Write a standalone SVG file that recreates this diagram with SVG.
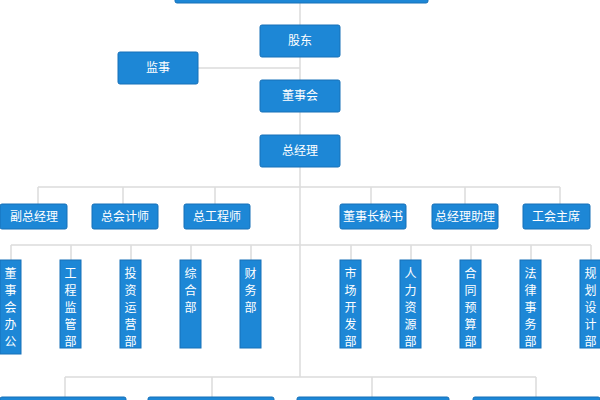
<svg xmlns="http://www.w3.org/2000/svg" width="600" height="400" viewBox="0 0 600 400">
<style>
.b{fill:#1d87d6;stroke:#1670b8;stroke-width:1}
.t{fill:#fff;font-family:"Noto Sans CJK SC",sans-serif;font-size:12px;text-anchor:middle}
.l{stroke:#dcdcdc;stroke-width:1.5;fill:none}
</style>
<rect width="600" height="400" fill="#fff"/>
<g id="connectors" class="l">
<path d="M300 3V377M118 68H300M38 187H560M38 187V204M123 187V204M215 187V204M371 187V204M465 187V204M560 187V204M11 245H591M11 245V260M71 245V260M131 245V260M191 245V260M251 245V260M351 245V260M411 245V260M471 245V260M531 245V260M591 245V260M65 377H536M65 377V397M212 377V397M372 377V397M536 377V397"/>
</g>
<g id="top"><rect class="b" x="175" y="-4" width="253" height="7" rx="2"/></g>
<g id="gudong"><rect class="b" x="260" y="25" width="80" height="32" rx="2"/><text class="t" x="300" y="45">股东</text></g>
<g id="jianshi"><rect class="b" x="118" y="52" width="80" height="32" rx="2"/><text class="t" x="158" y="72">监事</text></g>
<g id="dongshihui"><rect class="b" x="260" y="80" width="80" height="32" rx="2"/><text class="t" x="300" y="100">董事会</text></g>
<g id="zongjingli"><rect class="b" x="260" y="135" width="80" height="32" rx="2"/><text class="t" x="300" y="155">总经理</text></g>
<g id="r1"><rect class="b" x="0" y="204" width="67" height="25" rx="2"/><text class="t" x="34" y="221">副总经理</text></g>
<g id="r2"><rect class="b" x="92" y="204" width="66" height="25" rx="2"/><text class="t" x="125" y="221">总会计师</text></g>
<g id="r3"><rect class="b" x="184" y="204" width="66" height="25" rx="2"/><text class="t" x="217" y="221">总工程师</text></g>
<g id="r4"><rect class="b" x="340" y="204" width="66" height="25" rx="2"/><text class="t" x="373" y="221">董事长秘书</text></g>
<g id="r5"><rect class="b" x="432" y="204" width="66" height="25" rx="2"/><text class="t" x="465" y="221">总经理助理</text></g>
<g id="r6"><rect class="b" x="523" y="204" width="67" height="25" rx="2"/><text class="t" x="556" y="221">工会主席</text></g>
<g id="d1"><rect class="b" x="0" y="260" width="21" height="94"/><text class="t" x="10.5"><tspan x="10.5" y="278">董</tspan><tspan x="10.5" y="295">事</tspan><tspan x="10.5" y="312">会</tspan><tspan x="10.5" y="329">办</tspan><tspan x="10.5" y="346">公</tspan></text></g>
<g id="d2"><rect class="b" x="60" y="260" width="21" height="88"/><text class="t"><tspan x="70.5" y="278">工</tspan><tspan x="70.5" y="295">程</tspan><tspan x="70.5" y="312">监</tspan><tspan x="70.5" y="329">管</tspan><tspan x="70.5" y="346">部</tspan></text></g>
<g id="d3"><rect class="b" x="120" y="260" width="21" height="88"/><text class="t"><tspan x="130.5" y="278">投</tspan><tspan x="130.5" y="295">资</tspan><tspan x="130.5" y="312">运</tspan><tspan x="130.5" y="329">营</tspan><tspan x="130.5" y="346">部</tspan></text></g>
<g id="d4"><rect class="b" x="180" y="260" width="21" height="88"/><text class="t"><tspan x="190.5" y="278">综</tspan><tspan x="190.5" y="295">合</tspan><tspan x="190.5" y="312">部</tspan></text></g>
<g id="d5"><rect class="b" x="240" y="260" width="21" height="88"/><text class="t"><tspan x="250.5" y="278">财</tspan><tspan x="250.5" y="295">务</tspan><tspan x="250.5" y="312">部</tspan></text></g>
<g id="d6"><rect class="b" x="340" y="260" width="21" height="88"/><text class="t"><tspan x="350.5" y="278">市</tspan><tspan x="350.5" y="295">场</tspan><tspan x="350.5" y="312">开</tspan><tspan x="350.5" y="329">发</tspan><tspan x="350.5" y="346">部</tspan></text></g>
<g id="d7"><rect class="b" x="400" y="260" width="21" height="88"/><text class="t"><tspan x="410.5" y="278">人</tspan><tspan x="410.5" y="295">力</tspan><tspan x="410.5" y="312">资</tspan><tspan x="410.5" y="329">源</tspan><tspan x="410.5" y="346">部</tspan></text></g>
<g id="d8"><rect class="b" x="460" y="260" width="21" height="88"/><text class="t"><tspan x="470.5" y="278">合</tspan><tspan x="470.5" y="295">同</tspan><tspan x="470.5" y="312">预</tspan><tspan x="470.5" y="329">算</tspan><tspan x="470.5" y="346">部</tspan></text></g>
<g id="d9"><rect class="b" x="520" y="260" width="21" height="88"/><text class="t"><tspan x="530.5" y="278">法</tspan><tspan x="530.5" y="295">律</tspan><tspan x="530.5" y="312">事</tspan><tspan x="530.5" y="329">务</tspan><tspan x="530.5" y="346">部</tspan></text></g>
<g id="d10"><rect class="b" x="580" y="260" width="21" height="88"/><text class="t"><tspan x="590.5" y="278">规</tspan><tspan x="590.5" y="295">划</tspan><tspan x="590.5" y="312">设</tspan><tspan x="590.5" y="329">计</tspan><tspan x="590.5" y="346">部</tspan></text></g>
<g id="b1"><rect class="b" x="0" y="397" width="126" height="10" rx="2"/></g>
<g id="b2"><rect class="b" x="148" y="397" width="126" height="10" rx="2"/></g>
<g id="b3"><rect class="b" x="297" y="397" width="152" height="10" rx="2"/></g>
<g id="b4"><rect class="b" x="473" y="397" width="127" height="10" rx="2"/></g>
</svg>
